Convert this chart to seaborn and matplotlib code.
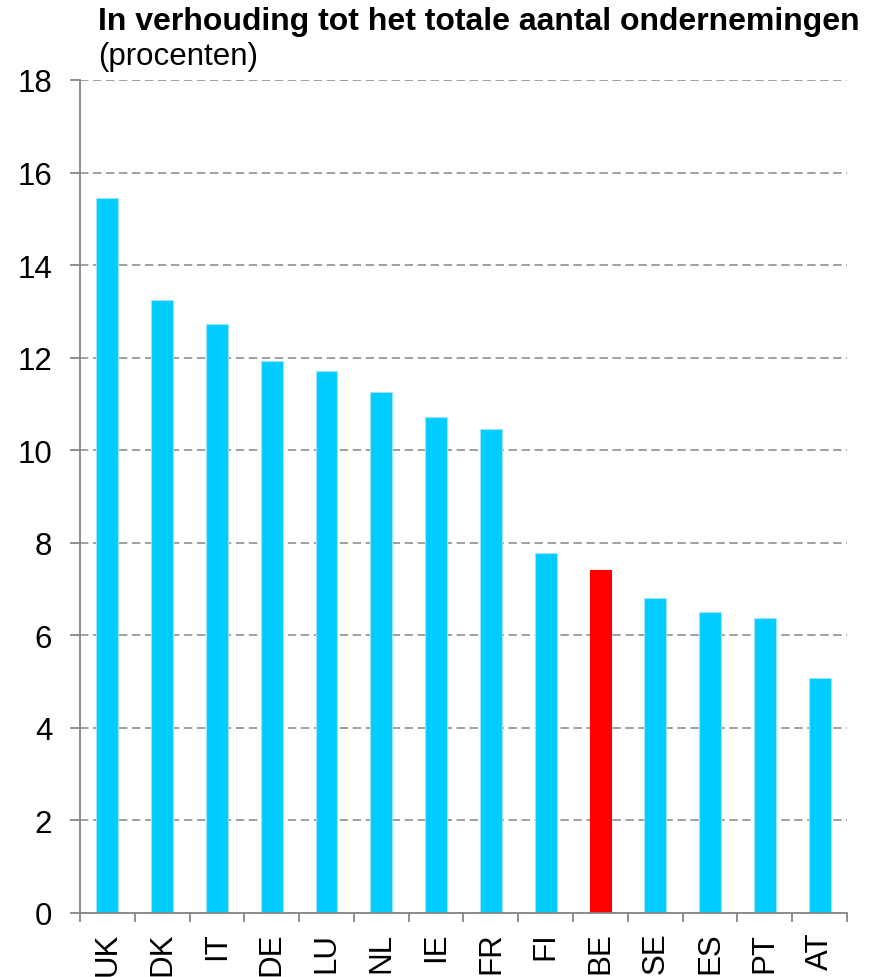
import pandas as pd
import numpy as np
import matplotlib
matplotlib.use("Agg")
import matplotlib.pyplot as plt
import seaborn as sns

countries = ["UK", "DK", "IT", "DE", "LU", "NL", "IE", "FR", "FI", "BE", "SE", "ES", "PT", "AT"]
values = [15.44, 13.25, 12.72, 11.93, 11.71, 11.26, 10.72, 10.46, 7.78, 7.41, 6.81, 6.50, 6.37, 5.07]
highlight = "BE"
y_ticks = [0, 2, 4, 6, 8, 10, 12, 14, 16, 18]

title = "In verhouding tot het totale aantal ondernemingen"
subtitle = "(procenten)"

sns.set_theme(style="white")
plt.rcParams["font.family"] = ["Liberation Sans", "DejaVu Sans"]

df = pd.DataFrame({"country": countries, "value": values})
palette = {c: ("#FF0000" if c == highlight else "#00CCFF") for c in countries}
edges = ["#FF0000" if c == highlight else "#9BE6FF" for c in countries]

fig = plt.figure(figsize=(8.78, 9.78), dpi=100)
ax = fig.add_axes([80 / 878, 1 - 914 / 978, 767 / 878, 833 / 978])

sns.barplot(data=df, x="country", y="value", hue="country", palette=palette,
            width=0.4, legend=False, ax=ax, zorder=2, saturation=1)
for patch, ec in zip(ax.patches, edges):
    patch.set_edgecolor(ec)
    patch.set_linewidth(0.8)

grey = "#868686"
fs = 22.5
ax.set_ylim(0, 18)
ax.set_xlim(-0.5, len(countries) - 0.5)
ax.set_yticks(y_ticks)
ax.yaxis.grid(True, color=grey, linestyle=(0, (5.5, 3)), linewidth=1.1, zorder=0)
ax.set_axisbelow(True)

for side in ["top", "right"]:
    ax.spines[side].set_visible(False)
for side in ["left", "bottom"]:
    ax.spines[side].set_color(grey)
    ax.spines[side].set_linewidth(1.3)

ax.tick_params(axis="y", which="major", left=True, length=7, width=1.3, color=grey,
               pad=13, labelsize=fs, labelcolor="black")
ax.tick_params(axis="x", which="major", bottom=False, length=0, pad=13.5,
               labelsize=fs, labelcolor="black", labelrotation=90)
ax.set_xticks(np.arange(-0.5, len(countries)), minor=True)
ax.tick_params(axis="x", which="minor", bottom=True, length=6.5, width=1.3, color=grey)

ax.set_xlabel("")
ax.set_ylabel("")

fig.text(98 / 878, 1 - 30 / 978, title, fontsize=23, fontweight="bold",
         color="black", va="baseline", ha="left")
fig.text(98 / 878, 1 - 65 / 978, subtitle, fontsize=fs, color="black",
         va="baseline", ha="left")

fig.savefig("out.png", dpi=100)
